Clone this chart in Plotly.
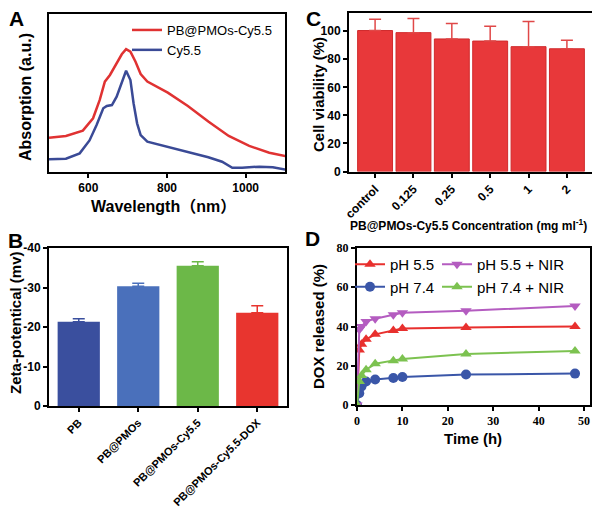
import plotly.graph_objects as go

# ---- panel A : absorption spectra
wl_red = [500, 543, 586, 612, 629, 642, 655, 668, 685, 696, 707, 720, 733, 750,
          802, 853, 905, 957, 1009, 1060, 1107]
abs_red = [0.217, 0.228, 0.262, 0.34, 0.456, 0.572, 0.614, 0.667, 0.745, 0.778, 0.762,
           0.698, 0.62, 0.572, 0.502, 0.418, 0.319, 0.228, 0.165, 0.122, 0.097]
wl_blue = [500, 543, 578, 603, 621, 638, 647, 660, 672, 685, 696, 707, 715, 724, 733,
           750, 802, 853, 905, 940, 966, 991, 1035, 1069, 1107]
abs_blue = [0.08, 0.084, 0.118, 0.2, 0.297, 0.403, 0.418, 0.424, 0.477, 0.572, 0.641,
            0.582, 0.435, 0.308, 0.234, 0.192, 0.16, 0.124, 0.093, 0.065, 0.027, 0.027,
            0.034, 0.03, 0.013]

# ---- panel B : zeta potential
zeta_names = ['PB', 'PB@PMOs', 'PB@PMOs-Cy5.5', 'PB@PMOs-Cy5.5-DOX']
zeta_vals = [-21.3, -30.3, -35.5, -23.6]
zeta_err = [0.8, 0.8, 1.0, 1.8]
zeta_cols = ['#3a4f9e', '#4a70bb', '#6cb848', '#e8352f']

# ---- panel C : cell viability
conc = ['control', '0.125', '0.25', '0.5', '1', '2']
viab = [100.5, 99, 94.5, 93, 89, 87.5]
viab_err = [8, 10, 11, 10.5, 18, 6]

# ---- panel D : DOX release
t = [0, 0.5, 1, 2, 4, 8, 10, 24, 48]
ph55 = [0, 28, 31, 33.5, 36, 38, 39, 39.5, 40]
ph74 = [0, 6, 9.5, 12, 13, 13.8, 14.3, 15.5, 16]
ph55_nir = [0, 38.5, 40, 42.5, 44, 46, 47, 48, 50.5]
ph74_nir = [0, 12, 15, 18, 21, 22.5, 23.5, 26, 27.5]

FONT = 'Liberation Sans, Arial, Noto Sans CJK SC'
SERIF = 'Liberation Serif, Times New Roman'
OFF = 8  # page body margin around the plot div

def px_x(v):
    return (v - OFF) / 600

def px_y(v):
    return (508 - (v - OFF)) / 508

fig = go.Figure()

# A
fig.add_trace(go.Scatter(x=wl_red, y=abs_red, mode='lines', name='PB@PMOs-Cy5.5',
                         line=dict(color='#e03232', width=2.5), xaxis='x', yaxis='y'))
fig.add_trace(go.Scatter(x=wl_blue, y=abs_blue, mode='lines', name='Cy5.5',
                         line=dict(color='#3a4a96', width=2.5), xaxis='x', yaxis='y'))

# B  (one trace per bar so each error bar takes its bar colour)
for name, val, err, col in zip(zeta_names, zeta_vals, zeta_err, zeta_cols):
    fig.add_trace(go.Bar(x=[name], y=[val], marker=dict(color=col), width=0.71, showlegend=False,
                         error_y=dict(type='data', symmetric=False, array=[0], arrayminus=[err],
                                      color=col, thickness=1.5, width=6),
                         xaxis='x2', yaxis='y2'))

# C
fig.add_trace(go.Bar(x=conc, y=viab, marker=dict(color='#e8383a', line=dict(color='#d02a2c', width=1)),
                     width=0.91, showlegend=False,
                     error_y=dict(type='data', symmetric=False, array=viab_err,
                                  arrayminus=[0] * 6, color='#e04848', thickness=1.5, width=6),
                     xaxis='x3', yaxis='y3'))

# D
series_d = [
    ('pH 5.5', ph55, '#e8302e', 'triangle-up', 'legend2'),
    ('pH 7.4', ph74, '#3a56a8', 'circle', 'legend2'),
    ('pH 5.5 + NIR', ph55_nir, '#b45cc0', 'triangle-down', 'legend3'),
    ('pH 7.4 + NIR', ph74_nir, '#7cc250', 'triangle-up', 'legend3'),
]
for name, vals, col, sym, leg in series_d:
    fig.add_trace(go.Scatter(x=t, y=vals, mode='lines+markers', name=name,
                             line=dict(color=col, width=2),
                             marker=dict(color=col, symbol=sym, size=10),
                             legend=leg, xaxis='x4', yaxis='y4'))

ax = dict(showline=True, linecolor='black', linewidth=2, mirror=True, showgrid=False,
          zeroline=False, ticks='outside', ticklen=4, tickwidth=2, tickcolor='black',
          tickfont=dict(family=FONT, size=12, color='black', weight='bold'), automargin=False)
serif_ticks = dict(family=SERIF, size=12, color='black', weight='bold')

fig.update_layout(
    width=600, height=508, margin=dict(l=0, r=0, t=0, b=0),
    template='none', paper_bgcolor='white', plot_bgcolor='white',
    font=dict(family=FONT, color='black'), barmode='overlay',
    xaxis=dict(ax, domain=[px_x(49), px_x(285)], range=[500, 1100],
               tickvals=[600, 800, 1000], anchor='y'),
    yaxis=dict(ax, domain=[px_y(172), px_y(14)], range=[0, 1], ticks='',
               showticklabels=False, anchor='x'),
    xaxis2=dict(ax, domain=[px_x(49), px_x(287)], range=[-0.5, 3.5], type='category',
                tickangle=-45, anchor='y2',
                tickfont=dict(family=FONT, size=11, color='black', weight='bold')),
    yaxis2=dict(ax, domain=[px_y(406), px_y(248)], range=[0, -40],
                tickvals=[0, -10, -20, -30, -40], ticktext=['0', '-10', '-20', '-30', '-40'],
                anchor='x2'),
    xaxis3=dict(ax, domain=[px_x(349), px_x(593)], range=[-0.68, 5.68], type='category',
                tickangle=-45, anchor='y3'),
    yaxis3=dict(ax, domain=[px_y(171.5), px_y(13)], range=[0, 113],
                tickvals=[0, 20, 40, 60, 80, 100], anchor='x3'),
    xaxis4=dict(ax, domain=[px_x(357), px_x(590)], range=[0, 51.3],
                tickvals=[0, 10, 20, 30, 40, 50], tickfont=serif_ticks, anchor='y4'),
    yaxis4=dict(ax, domain=[px_y(405), px_y(248)], range=[0, 80],
                tickvals=[0, 20, 40, 60, 80], tickfont=serif_ticks, anchor='x4'),
    legend=dict(x=px_x(127), y=px_y(15), xanchor='left', yanchor='top', bgcolor='rgba(0,0,0,0)',
                font=dict(family=FONT, size=13, color='black'), tracegroupgap=0),
    legend2=dict(x=px_x(350), y=px_y(248), xanchor='left', yanchor='top', bgcolor='rgba(0,0,0,0)',
                 font=dict(family=FONT, size=15, color='black')),
    legend3=dict(x=px_x(437), y=px_y(248), xanchor='left', yanchor='top', bgcolor='rgba(0,0,0,0)',
                 font=dict(family=FONT, size=15, color='black')),
)

def label(text, x, y, size=15, angle=0):
    fig.add_annotation(text=text, x=px_x(x), y=px_y(y), xref='paper', yref='paper',
                       xanchor='center', yanchor='middle', showarrow=False, textangle=angle,
                       font=dict(family=FONT, size=size, color='black', weight='bold'))

# panel letters
label('A', 16, 19, size=21)
label('B', 15, 241, size=21)
label('C', 313, 19, size=21)
label('D', 312, 239, size=21)

# axis titles
label('Absorption (a.u.)', 25, 97, size=16, angle=-90)
label('Wavelength（nm）', 163, 207, size=16)
label('Zeta-potentical (mv)', 15, 323, size=15, angle=-90)
label('Cell viability (%)', 318, 95, angle=-90)
label('PB@PMOs-Cy5.5 Concentration (mg ml<sup>-1</sup>)', 468, 225, size=12)
label('DOX released (%)', 318, 327, angle=-90)
label('Time (h)', 473, 438)

fig.write_html("out.html")
